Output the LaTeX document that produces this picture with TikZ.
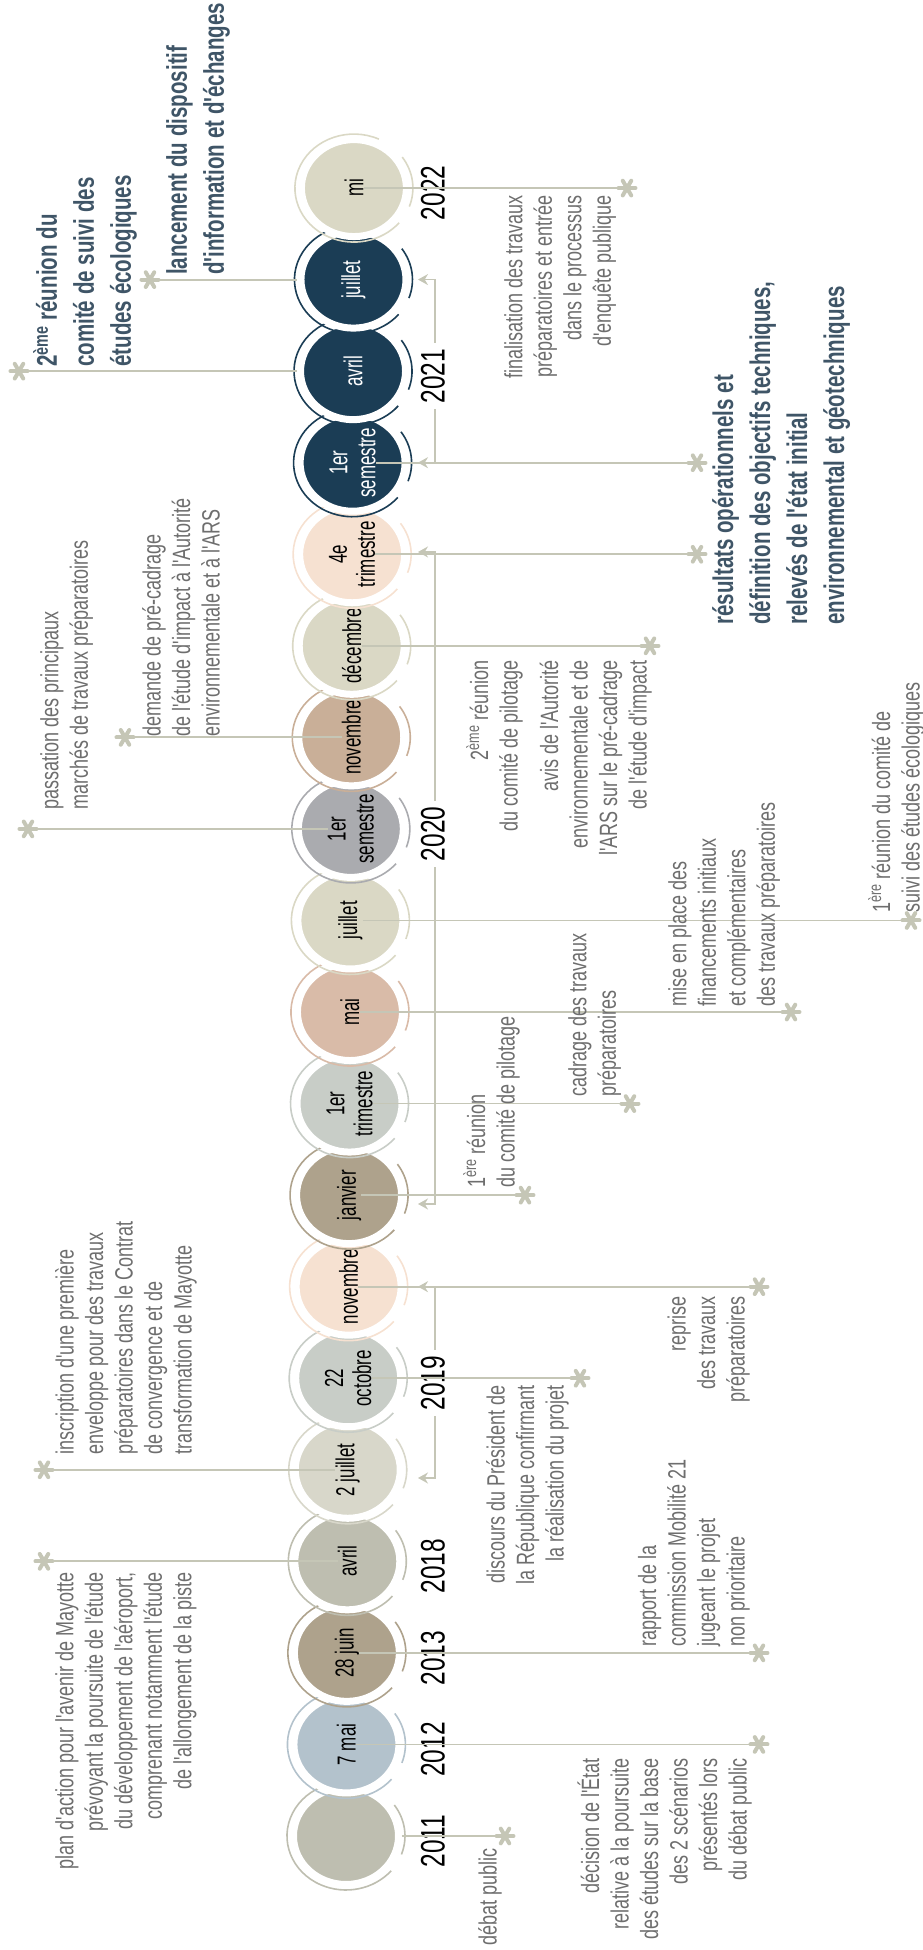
\documentclass[tikz,border=0pt]{standalone}
\usepackage{fontspec}
\setmainfont{Liberation Sans}[FakeStretch=0.72]
\newfontfamily\etroite{Liberation Sans}[FakeStretch=0.72]
\newfontfamily\serree{Liberation Sans}[FakeStretch=0.65]
\usetikzlibrary{arrows.meta,shapes.geometric}
\definecolor{liengris}{HTML}{C5C6B6}
\definecolor{gristexte}{HTML}{6E6E6E}
\definecolor{ardoise}{HTML}{3F5567}
\definecolor{olive}{HTML}{BEBEB0}
\definecolor{bleugris}{HTML}{B3C2CC}
\definecolor{taupe}{HTML}{AEA28C}
\definecolor{sable}{HTML}{D8D7CA}
\definecolor{vertgris}{HTML}{C8CDC7}
\definecolor{peche}{HTML}{F6E1D1}
\definecolor{rose}{HTML}{D9BBA8}
\definecolor{creme}{HTML}{DAD8C5}
\definecolor{grismoyen}{HTML}{AAABAF}
\definecolor{beige}{HTML}{C9AF98}
\definecolor{marine}{HTML}{1B3D55}

\begin{document}
\begin{tikzpicture}[x=1pt,y=1pt,rotate=90,transform shape,
  pastille/.style={ellipse,draw=white,line width=7pt,inner sep=0pt,minimum width=97pt,minimum height=105pt},
  anneau/.style={line width=1.6pt},
  jour/.style={font=\serree\fontsize{26}{28}\selectfont,align=center,inner sep=0pt},
  lien/.style={draw=liengris,line width=1.8pt},
  crochet/.style={draw=liengris,line width=1.5pt,{Stealth[length=10pt,width=11pt]}-{Stealth[length=10pt,width=11pt]}},
  annee/.style={font=\etroite\fontsize{34}{36}\selectfont,fill=white,inner sep=6pt},
  texte/.style={font=\etroite\fontsize{25}{29.5}\selectfont,text=gristexte,inner sep=0pt},
  gras/.style={font=\etroite\bfseries\fontsize{28.5}{37}\selectfont,text=ardoise,inner sep=0pt},
  etoile/.pic={\foreach \a in {30,90,...,330} \draw[lien,line width=4pt,line cap=round] (0,0) -- (\a:8.5);}]
  \useasboundingbox (0,0) rectangle (1950,922);
  % pastilles, de 2011 a 2022
  \foreach \i/\coul/\ecrit/\lab in {0/olive/black/{},1/bleugris/black/{7 mai},2/taupe/black/{28 juin},
      3/olive/black/{avril},4/sable/black/{2 juillet},5/vertgris/black/{22\\octobre},
      6/peche/black/{novembre},7/taupe/black/{janvier},8/vertgris/black/{1er\\trimestre},
      9/rose/black/{mai},10/creme/black/{juillet},11/grismoyen/black/{1er\\semestre},
      12/beige/black/{novembre},13/creme/black/{décembre},14/peche/black/{4e\\trimestre},
      15/marine/white/{1er\\semestre},16/marine/white/{avril},17/marine/white/{juillet},
      18/creme/black/{mi}}{
    \node[pastille,fill=\coul] (c\i) at ({114+91.55*\i},{576-0.44*\i}) {};
    \draw[anneau,draw=\coul] (c\i.center) ++(-25:54 and 59) arc[start angle=-25,end angle=230,x radius=54,y radius=59];
    \draw[anneau,draw=\coul] (c\i.center) ++(-110:54 and 59) arc[start angle=-110,end angle=-55,x radius=54,y radius=59];
    \node[jour,text=\ecrit] (t\i) at (c\i.center) {\lab};
  }
  % etoiles
  \foreach \i/\v in {0/417,1/163,2/163,3/878,4/878,5/342,6/163,7/397,8/292,9/131,
      10/11,11/894,12/797,13/272,14/225,15/225,16/903,17/772,18/295}
    \coordinate (e\i) at ({114+91.55*\i},\v);
  % crochets des annees
  \coordinate (a19) at (472,504);
  \coordinate (b19) at (663.3,504);
  \coordinate (a20) at (746,504);
  \coordinate (b20) at (1398,504);
  \coordinate (a21) at (1487.3,504);
  \coordinate (b21) at (1670.4,504);
  \draw[crochet] (a19) -- ++(0,-17) -| (b19);
  \draw[crochet] (a20) -- ++(0,-17) -| (b20);
  \draw[crochet] (a21) -- ++(0,-17) -| (b21);
  \node[annee] (y2011) at (109,489) {2011};
  \node[annee] (y2012) at (200.6,489) {2012};
  \node[annee] (y2013) at (292,489) {2013};
  \node[annee] (y2018) at (383.7,489) {2018};
  \node[annee] (y2019) at (566.8,489) {2019};
  \node[annee] (y2020) at (1116,489) {2020};
  \node[annee] (y2021) at (1573.8,489) {2021};
  \node[annee] (y2022) at (1757,489) {2022};
  % liens
  \draw[lien] (c0) -- (e0);
  \foreach \i in {1,2,5,6,7,8,9,10,13,14,15,18} \draw[lien] (t\i.south) -- (e\i);
  \foreach \i in {3,4,11,12} \draw[lien] (e\i) -- (t\i.north);
  \foreach \i in {16,17} \draw[lien] (e\i) -- (c\i);
  \foreach \i in {0,...,18} \pic at (e\i) {etoile};
  % evenements
  \node[texte,anchor=north east] (d0) at (102,444) {débat public};
  \node[texte,anchor=south east,align=right] (d1) at (192,170) {décision de l'État\\relative à la poursuite\\des études sur la base\\des 2 scénarios\\présentés lors\\du débat public};
  \node[texte,anchor=south west,align=left] (d2) at (303,172) {rapport de la\\commission Mobilité 21\\jugeant le projet\\non prioritaire};
  \node[texte,anchor=north east,align=right] (d3) at (378,867) {plan d'action pour l'avenir de Mayotte\\prévoyant la poursuite de l'étude\\du développement de l'aéroport,\\comprenant notamment l'étude\\de l'allongement de la piste};
  \node[texte,anchor=north west,align=left] (d4) at (495,867) {inscription d'une première\\enveloppe pour des travaux\\préparatoires dans le Contrat\\de convergence et de\\transformation de Mayotte};
  \node[texte,anchor=north east,align=right] (d5) at (565,436) {discours du Président de\\la République confirmant\\la réalisation du projet};
  \node[texte,anchor=south east,align=right] (d6) at (654,172) {reprise\\des travaux\\préparatoires};
  \node[texte,anchor=north west,align=left] (d7) at (762,459) {1\textsuperscript{ère} réunion\\du comité de pilotage};
  \node[texte,anchor=north west,align=left] (d8) at (853,354) {cadrage des travaux\\préparatoires};
  \node[texte,anchor=north west,align=left] (d9) at (943,254) {mise en place des\\financements initiaux\\et complémentaires\\des travaux préparatoires};
  \node[texte,anchor=north west,align=left] (d10) at (1037,54) {1\textsuperscript{ère} réunion du comité de\\suivi des études écologiques};
  \node[texte,anchor=north west,align=left] (d11) at (1140,882) {passation des principaux\\marchés de travaux préparatoires};
  \node[texte,anchor=north west,align=left] (d12) at (1213,780) {demande de pré-cadrage\\de l'étude d'impact à l'Autorité\\environnementale et à l'ARS};
  \node[texte,anchor=north east,align=right] (d13) at (1290,456) {2\textsuperscript{ème} réunion\\du comité de pilotage\\[11pt]avis de l'Autorité\\environnementale et de\\l'ARS sur le pré-cadrage\\de l'étude d'impact};
  \node[gras,anchor=north west,align=left] (d14) at (1325,210) {résultats opérationnels et\\définition des objectifs techniques,\\relevés de l'état initial\\environnemental et géotechniques};
  \node[gras,anchor=north west,align=left] (d16) at (1583,889) {2\textsuperscript{ème} réunion du\\comité de suivi des\\études écologiques};
  \node[gras,anchor=north west,align=left] (d17) at (1675,756) {lancement du dispositif\\d'information et d'échanges};
  \node[texte,anchor=north east,align=right] (d18) at (1755,418) {finalisation des travaux\\préparatoires et entrée\\dans le processus\\d'enquête publique};
\end{tikzpicture}
\end{document}
